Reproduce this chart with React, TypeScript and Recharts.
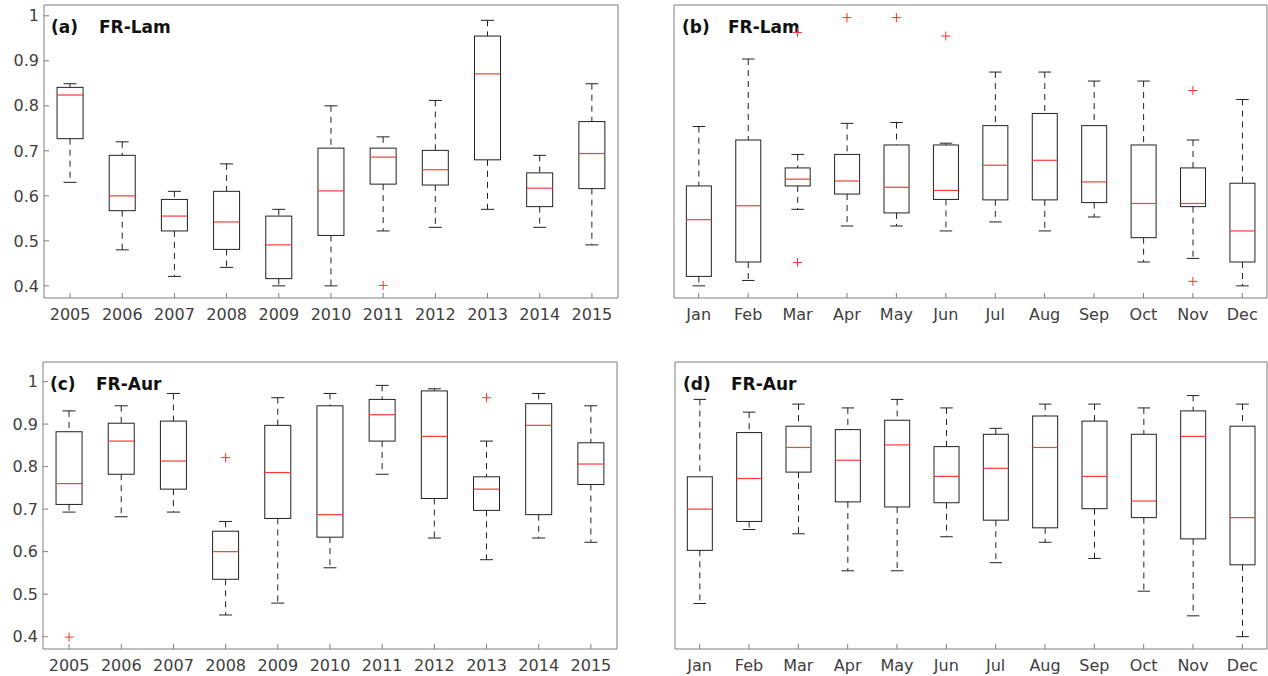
import { Bar, ComposedChart, Line, XAxis, YAxis } from "recharts";

const years = ["2005", "2006", "2007", "2008", "2009", "2010", "2011", "2012", "2013", "2014", "2015"];
const months = ["Jan", "Feb", "Mar", "Apr", "May", "Jun", "Jul", "Aug", "Sep", "Oct", "Nov", "Dec"];
const yTicks = [0.4, 0.5, 0.6, 0.7, 0.8, 0.9, 1];

// each box: [lower whisker, q1, median, q3, upper whisker]
const lamYearBoxes = [
  [0.63, 0.727, 0.824, 0.841, 0.849],
  [0.48, 0.567, 0.6, 0.69, 0.72],
  [0.421, 0.522, 0.555, 0.592, 0.61],
  [0.441, 0.481, 0.542, 0.61, 0.671],
  [0.4, 0.416, 0.491, 0.555, 0.57],
  [0.4, 0.512, 0.611, 0.706, 0.8],
  [0.522, 0.626, 0.686, 0.706, 0.731],
  [0.53, 0.624, 0.658, 0.701, 0.812],
  [0.57, 0.68, 0.871, 0.955, 0.99],
  [0.53, 0.576, 0.617, 0.651, 0.69],
  [0.491, 0.616, 0.694, 0.765, 0.849],
];
const lamYearOutliers = [[], [], [], [], [], [], [0.401], [], [], [], []];

const lamMonthBoxes = [
  [0.4, 0.421, 0.547, 0.622, 0.754],
  [0.412, 0.453, 0.578, 0.724, 0.904],
  [0.57, 0.622, 0.637, 0.662, 0.692],
  [0.533, 0.604, 0.633, 0.692, 0.761],
  [0.533, 0.562, 0.619, 0.713, 0.763],
  [0.522, 0.592, 0.612, 0.713, 0.717],
  [0.542, 0.591, 0.668, 0.756, 0.875],
  [0.522, 0.591, 0.679, 0.783, 0.875],
  [0.553, 0.585, 0.631, 0.756, 0.855],
  [0.453, 0.507, 0.583, 0.713, 0.855],
  [0.461, 0.576, 0.583, 0.662, 0.724],
  [0.4, 0.453, 0.522, 0.628, 0.814],
];
const lamMonthOutliers = [[], [], [0.963, 0.452], [0.996], [0.996], [0.955], [], [], [], [], [0.834, 0.41], []];

const aurYearBoxes = [
  [0.693, 0.711, 0.76, 0.882, 0.931],
  [0.682, 0.782, 0.86, 0.902, 0.943],
  [0.693, 0.747, 0.813, 0.907, 0.972],
  [0.451, 0.535, 0.6, 0.648, 0.671],
  [0.479, 0.678, 0.786, 0.897, 0.962],
  [0.562, 0.634, 0.687, 0.943, 0.972],
  [0.782, 0.86, 0.922, 0.958, 0.991],
  [0.632, 0.725, 0.871, 0.978, 0.983],
  [0.581, 0.697, 0.747, 0.776, 0.86],
  [0.632, 0.687, 0.897, 0.948, 0.972],
  [0.622, 0.758, 0.806, 0.856, 0.943],
];
const aurYearOutliers = [[0.399], [], [], [0.821], [], [], [], [], [0.962], [], []];

const aurMonthBoxes = [
  [0.478, 0.603, 0.7, 0.776, 0.958],
  [0.652, 0.671, 0.772, 0.88, 0.928],
  [0.642, 0.787, 0.845, 0.895, 0.947],
  [0.555, 0.717, 0.815, 0.887, 0.938],
  [0.555, 0.705, 0.851, 0.909, 0.958],
  [0.635, 0.715, 0.777, 0.847, 0.938],
  [0.574, 0.674, 0.796, 0.876, 0.89],
  [0.622, 0.656, 0.845, 0.919, 0.947],
  [0.584, 0.701, 0.777, 0.907, 0.947],
  [0.507, 0.68, 0.719, 0.876, 0.938],
  [0.449, 0.63, 0.871, 0.931, 0.967],
  [0.4, 0.569, 0.68, 0.895, 0.947],
];
const aurMonthOutliers = [[], [], [], [], [], [], [], [], [], [], [], []];

const FONT = "DejaVu Sans";
const AXIS = "#7f7f7f";

function buildRows(cats: string[], boxes: number[][], outliers: number[][]) {
  return cats.map((name, i) => {
    const [lo, q1, med, q3, hi] = boxes[i];
    return { name, lo, q1, med, q3, hi, out1: outliers[i][0], out2: outliers[i][1] };
  });
}

// draws whiskers, box and median inside the bar rect that spans lo..hi
function BoxShape(props: any) {
  const { x, y, width, height, payload } = props;
  const { lo, q1, med, q3, hi } = payload;
  const py = (v: number) => y + (height * (hi - v)) / (hi - lo || 1);
  const cx = x + width / 2;
  const cap = width / 4;
  return (
    <g>
      <line x1={cx} x2={cx} y1={py(hi)} y2={py(q3)} stroke="#222" strokeDasharray="6 5" />
      <line x1={cx} x2={cx} y1={py(q1)} y2={py(lo)} stroke="#222" strokeDasharray="6 5" />
      <line x1={cx - cap} x2={cx + cap} y1={py(hi)} y2={py(hi)} stroke="#222" />
      <line x1={cx - cap} x2={cx + cap} y1={py(lo)} y2={py(lo)} stroke="#222" />
      <rect x={x} y={py(q3)} width={width} height={py(q1) - py(q3)} fill="none" stroke="#222" />
      <line x1={x} x2={x + width} y1={py(med)} y2={py(med)} stroke="#ff3b3b" strokeWidth={1.2} />
    </g>
  );
}

function plusDot(p: any) {
  if (p.value == null || p.cy == null || isNaN(p.cy)) return <g key={`e${p.index}`} />;
  return (
    <path
      key={`p${p.index}`}
      d={`M${p.cx - 4.5},${p.cy}h9M${p.cx},${p.cy - 4.5}v9`}
      stroke="#ff3030"
      strokeWidth={1}
      fill="none"
    />
  );
}

interface PanelProps {
  cats: string[];
  boxes: number[][];
  outliers: number[][];
  domain: [number, number];
  left: number;
  top: number;
  width: number;
  height: number;
  marginTop: number;
  marginRight: number;
  yWidth: number;
  xHeight: number;
  showY: boolean;
}

function BoxPanel(p: PanelProps) {
  const rows = buildRows(p.cats, p.boxes, p.outliers);
  return (
    <div style={{ position: "absolute", left: p.left, top: p.top }}>
      <ComposedChart
        width={p.width}
        height={p.height}
        data={rows}
        barCategoryGap="25%"
        margin={{ top: p.marginTop, right: p.marginRight, bottom: 0, left: 0 }}
      >
        <XAxis
          dataKey="name"
          stroke={AXIS}
          height={p.xHeight}
          tickSize={-5}
          tickMargin={16}
          interval={0}
          tick={{ fill: "#404040", fontSize: 16, fontFamily: FONT }}
        />
        <XAxis xAxisId="top" dataKey="name" orientation="top" stroke={AXIS} height={1} tickSize={-5} tick={false} interval={0} />
        <YAxis
          type="number"
          domain={p.domain}
          ticks={yTicks}
          stroke={AXIS}
          width={p.yWidth}
          tickSize={-5}
          tickMargin={10}
          interval={0}
          tick={p.showY ? { fill: "#404040", fontSize: 16, fontFamily: FONT } : false}
        />
        <YAxis
          yAxisId="right"
          orientation="right"
          type="number"
          domain={p.domain}
          ticks={yTicks}
          stroke={AXIS}
          width={1}
          tickSize={-5}
          tick={false}
          interval={0}
        />
        <Bar dataKey={(d: any) => [d.lo, d.hi]} shape={BoxShape} isAnimationActive={false} legendType="none" />
        <Line dataKey="out1" stroke="none" dot={plusDot} activeDot={false} isAnimationActive={false} legendType="none" />
        <Line dataKey="out2" stroke="none" dot={plusDot} activeDot={false} isAnimationActive={false} legendType="none" />
      </ComposedChart>
    </div>
  );
}

const titleStyle = { fontFamily: FONT, fontWeight: 700, fontSize: 17, fill: "#111" };

export default function App() {
  const topDomain: [number, number] = [0.373, 1.024];
  const botDomain: [number, number] = [0.371, 1.046];
  return (
    <div style={{ position: "absolute", left: 0, top: 0, width: 1268, height: 676, background: "#fff" }}>
      <svg width={1268} height={676} style={{ position: "absolute", left: 0, top: 0, pointerEvents: "none" }}>
        <text x={51} y={33} style={titleStyle}>(a)</text>
        <text x={99} y={33} style={titleStyle}>FR-Lam</text>
        <text x={682} y={33} style={titleStyle}>(b)</text>
        <text x={728} y={33} style={titleStyle}>FR-Lam</text>
        <text x={50} y={390} style={titleStyle}>(c)</text>
        <text x={96} y={390} style={titleStyle}>FR-Aur</text>
        <text x={683} y={390} style={titleStyle}>(d)</text>
        <text x={731} y={390} style={titleStyle}>FR-Aur</text>
      </svg>
      <BoxPanel cats={years} boxes={lamYearBoxes} outliers={lamYearOutliers} domain={topDomain}
        left={0} top={0} width={630} height={330} marginTop={4} marginRight={11} yWidth={44} xHeight={32} showY />
      <BoxPanel cats={months} boxes={lamMonthBoxes} outliers={lamMonthOutliers} domain={topDomain}
        left={640} top={0} width={628} height={330} marginTop={4} marginRight={0} yWidth={34} xHeight={32} showY={false} />
      <BoxPanel cats={years} boxes={aurYearBoxes} outliers={aurYearOutliers} domain={botDomain}
        left={0} top={340} width={630} height={336} marginTop={21} marginRight={12} yWidth={43} xHeight={27} showY />
      <BoxPanel cats={months} boxes={aurMonthBoxes} outliers={aurMonthOutliers} domain={botDomain}
        left={640} top={340} width={628} height={336} marginTop={21} marginRight={0} yWidth={35} xHeight={27} showY={false} />
    </div>
  );
}
